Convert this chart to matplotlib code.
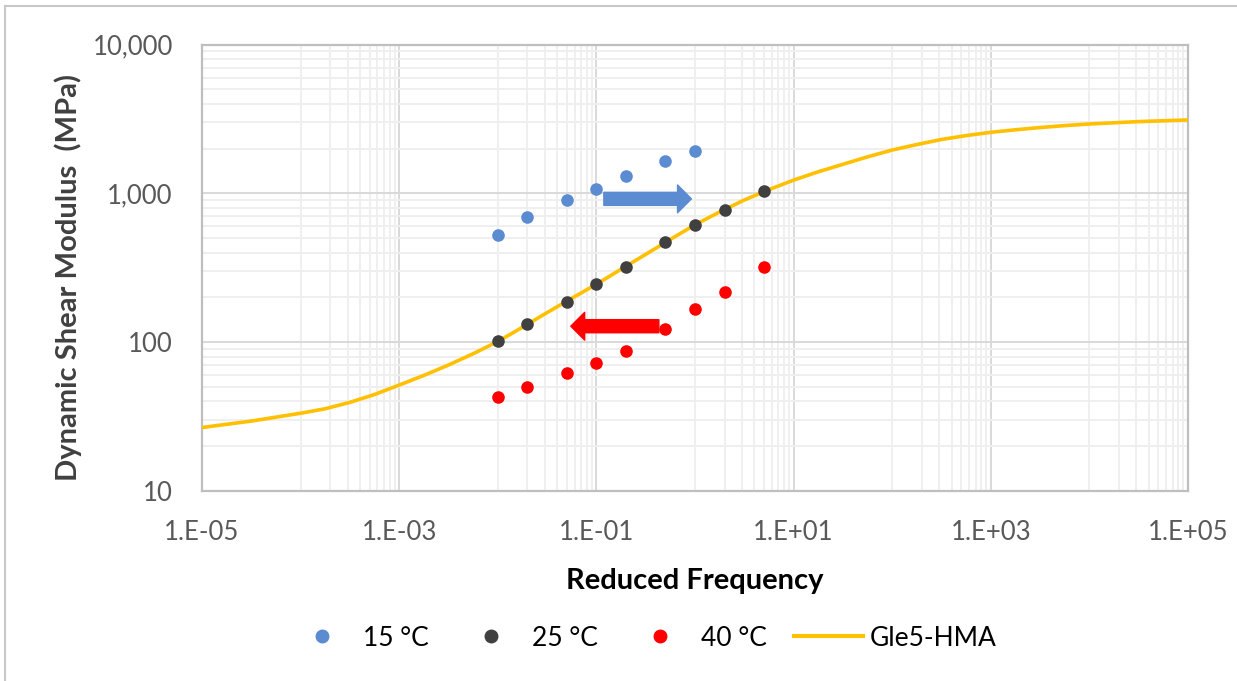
import matplotlib
matplotlib.use("Agg")
import matplotlib.pyplot as plt
from matplotlib.ticker import FixedLocator, NullFormatter, FuncFormatter
from matplotlib.lines import Line2D
import numpy as np

plt.rcParams['font.family'] = ['Lato', 'DejaVu Sans']

# ---- data ----
freq_25 = [0.01, 0.02, 0.05, 0.1, 0.2, 0.5, 1, 2, 5]
g_25 = [102, 133, 187, 245, 321, 469, 615, 769, 1041]

freq_15 = [0.01, 0.02, 0.05, 0.1, 0.2, 0.5, 1]
g_15 = [525, 690, 897, 1074, 1313, 1648, 1915]

freq_40 = [0.01, 0.02, 0.05, 0.1, 0.2, 0.5, 1, 2, 5]
g_40 = [42.8, 49.7, 62.2, 72.4, 87.5, 123, 168, 218, 321]

curve_freq = [1e-5, 3.16e-5, 1e-4, 1.78e-4, 3.16e-4, 5.62e-4, 1e-3, 1.78e-3, 3.16e-3, 5.62e-3,
              1e-2, 1.78e-2, 3.16e-2, 5.62e-2, 1e-1, 1.78e-1, 3.16e-1, 5.62e-1,
              1, 1.78, 3.16, 5.62, 10, 17.8, 31.6, 56.2, 100, 178, 316, 562,
              1e3, 1.78e3, 3.16e3, 5.62e3, 1e4, 3.16e4, 1e5]
curve_g = [26.7, 29.5, 33.3, 35.7, 39.4, 44.5, 51.5, 59.8, 70.2, 83.6,
           101, 126, 158, 197, 245, 309, 389, 490,
           615, 750, 902, 1059, 1227, 1396, 1567, 1758, 1954, 2128, 2301, 2443,
           2570, 2673, 2767, 2851, 2924, 3034, 3112]

legend_labels = ['15 °C', '25 °C', '40 °C', 'Gle5-HMA']
x_tick_labels = ['1.E-05', '1.E-03', '1.E-01', '1.E+01', '1.E+03', '1.E+05']

c15 = '#5b8bd0'
c25 = '#404040'
c40 = '#ff0000'
cfit = '#ffc000'

fig = plt.figure(figsize=(12.37, 6.81), dpi=100)
ax = fig.add_axes([202/1237, 1-491/681, (1188-202)/1237, (491-44.5)/681])

ax.set_xscale('log')
ax.set_yscale('log')
ax.set_xlim(1e-5, 1e5)
ax.set_ylim(10, 10000)

# grid
xmaj = [10.0**e for e in range(-5, 6, 2)]
xmin = [k*10.0**e for e in range(-4, 5, 2) for k in range(1, 10)]
ax.xaxis.set_major_locator(FixedLocator(xmaj))
ax.xaxis.set_minor_locator(FixedLocator(xmin))
ymaj = [10, 100, 1000, 10000]
ymin = [k*10.0**e for e in range(1, 4) for k in range(2, 10)]
ax.yaxis.set_major_locator(FixedLocator(ymaj))
ax.yaxis.set_minor_locator(FixedLocator(ymin))
ax.xaxis.set_major_formatter(FuncFormatter(lambda v, p: x_tick_labels[int(round((np.log10(v)+5)/2))]))
ax.yaxis.set_major_formatter(FuncFormatter(lambda v, p: f"{int(round(v)):,}"))
ax.xaxis.set_minor_formatter(NullFormatter())
ax.yaxis.set_minor_formatter(NullFormatter())

ax.grid(which='minor', color='#efefef', linewidth=1.4, zorder=0)
ax.grid(which='major', color='#d9d9d9', linewidth=1.4, zorder=0)
ax.set_axisbelow(True)
for s in ax.spines.values():
    s.set_color('#bfbfbf')
    s.set_linewidth(1.6)
ax.tick_params(which='both', length=0)
ax.tick_params(axis='y', pad=21, labelsize=18.5, labelcolor='#595959')
ax.tick_params(axis='x', pad=21, labelsize=18.5, labelcolor='#595959')

ax.plot(curve_freq, curve_g, color=cfit, linewidth=2.6, zorder=3, solid_capstyle='butt')
ms = 82
ax.scatter(freq_15, g_15, s=ms, color=c15, zorder=4, linewidths=0)
ax.scatter(freq_25, g_25, s=ms, color=c25, zorder=4, linewidths=0)
ax.scatter(freq_40, g_40, s=ms, color=c40, zorder=4, linewidths=0)

# arrows
ax.annotate('', xy=(0.92, 918), xytext=(0.119, 918),
            arrowprops=dict(arrowstyle='simple,head_length=0.5,head_width=1.0,tail_width=0.47',
                            color=c15, shrinkA=0, shrinkB=0, mutation_scale=20), zorder=5)
ax.annotate('', xy=(0.055, 128), xytext=(0.43, 128),
            arrowprops=dict(arrowstyle='simple,head_length=0.5,head_width=1.0,tail_width=0.47',
                            color=c40, shrinkA=0, shrinkB=0, mutation_scale=20), zorder=5)

ax.set_ylabel('Dynamic Shear Modulus  (MPa)', fontsize=21, fontweight='bold', color='#404040',
              va='center', ha='center')
ax.yaxis.set_label_coords(-134/986, 0.479)
ax.set_xlabel('Reduced Frequency', fontsize=21, fontweight='bold', color='#000000',
              va='center', ha='center')
ax.xaxis.set_label_coords(0.5, -90/446.5)

handles = [Line2D([], [], marker='o', linestyle='none', color=c15, markersize=9),
           Line2D([], [], marker='o', linestyle='none', color=c25, markersize=9),
           Line2D([], [], marker='o', linestyle='none', color=c40, markersize=9),
           Line2D([], [], color=cfit, linewidth=3.0)]
fig.legend(handles, legend_labels, loc='center', bbox_to_anchor=(642/1237, 1-638/681),
           ncol=4, frameon=False, fontsize=19, handlelength=2.6, columnspacing=1.06,
           handletextpad=0.25, borderpad=0, borderaxespad=0)

# outer chart border (top and left visible)
fig.add_artist(Line2D([5/1237, 1], [1-6/681, 1-6/681], color='#c8c8c8', linewidth=1.5, transform=fig.transFigure))
fig.add_artist(Line2D([5/1237, 5/1237], [0, 1-6/681], color='#c8c8c8', linewidth=1.5, transform=fig.transFigure))

fig.savefig('out.png', dpi=100)
